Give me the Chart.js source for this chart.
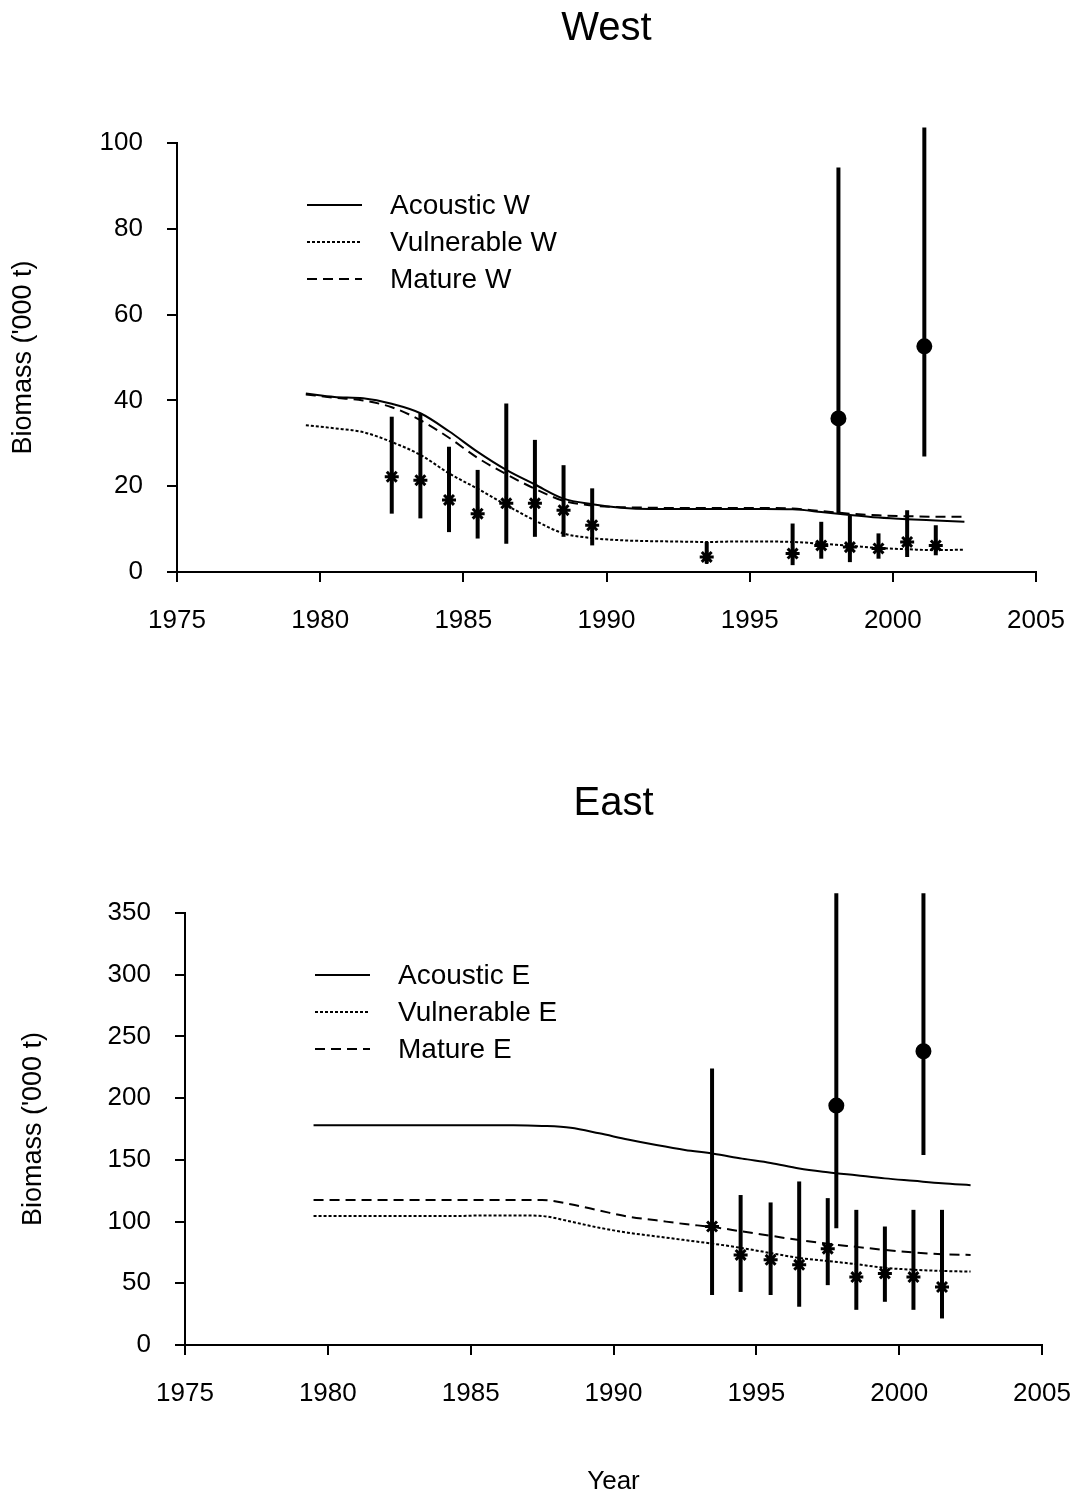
<!DOCTYPE html>
<html>
<head>
<meta charset="utf-8">
<script src="https://cdn.jsdelivr.net/npm/chart.js@4.4.0/dist/chart.umd.min.js"></script>
<style>
  body { margin: 0; background: #fff; }
  canvas { position: absolute; left: 0; }
  #west { top: 0; }
  #east { top: 740px; }
</style>
</head>
<body>
<canvas id="west" width="1076" height="720"></canvas>
<canvas id="east" width="1076" height="757"></canvas>
<script>
// model years (mid-year)
const years = [1979.5, 1980.5, 1981.5, 1982.5, 1983.5, 1984.5, 1985.5, 1986.5, 1987.5, 1988.5, 1989.5, 1990.5,
  1991.5, 1992.5, 1993.5, 1994.5, 1995.5, 1996.5, 1997.5, 1998.5, 1999.5, 2000.5, 2001.5, 2002.5]

// West
const acousticW = [41.6, 40.8, 40.5, 39.2, 37.0, 32.8, 28.0, 23.8, 20.4, 17.1, 15.8, 15.0,
  14.7, 14.7, 14.7, 14.7, 14.7, 14.6, 14.0, 13.3, 12.7, 12.3, 12.0, 11.7]
const vulnerableW = [34.2, 33.5, 32.6, 30.3, 27.3, 23.0, 19.4, 15.6, 12.0, 9.0, 7.9, 7.4,
  7.2, 7.1, 7.0, 7.1, 7.1, 7.0, 6.6, 6.1, 5.6, 5.3, 5.1, 5.2]
const matureW = [41.4, 40.6, 40.0, 38.4, 35.4, 31.3, 26.6, 22.8, 19.4, 16.6, 15.5, 15.1,
  15.0, 14.9, 14.9, 14.9, 14.9, 14.8, 14.2, 13.6, 13.2, 13.0, 12.9, 12.9]

const surveyYearsW = [1982.5, 1983.5, 1984.5, 1985.5, 1986.5, 1987.5, 1988.5, 1989.5, 1993.5, 1996.5, 1997.5, 1998.5, 1999.5, 2000.5, 2001.5]
const surveyW = [22.2, 21.4, 16.8, 13.6, 16.0, 16.0, 14.4, 10.9, 3.5, 4.3, 6.2, 5.8, 5.5, 7.0, 6.2]
const surveyLowW = [13.6, 12.5, 9.3, 7.8, 6.6, 8.2, 8.2, 6.2, 2.0, 1.6, 3.1, 2.3, 3.1, 3.5, 3.9]
const surveyHighW = [36.2, 37.0, 29.2, 23.8, 39.3, 30.8, 24.9, 19.5, 7.0, 11.3, 11.7, 13.2, 9.0, 14.4, 10.9]

const acYearsW = [1998.1, 2001.1]
const acW = [35.8, 52.6]
const acLowW = [13.6, 26.9]
const acHighW = [94.3, 103.6]

// East
const acousticE = [178, 178, 178, 178, 178, 178, 178, 178, 177.5, 176, 171.5, 166.5,
  162, 158, 155, 151, 147.5, 143, 140, 137.5, 135, 133, 131, 129.5]
const vulnerableE = [104.5, 104.5, 104.5, 104.5, 104.5, 104.5, 105, 105, 104.5, 100, 95, 91,
  88, 85, 82, 78.5, 74.5, 70.5, 68, 65.5, 62.5, 61, 60, 59.5]
const matureE = [117.5, 117.5, 117.5, 117.5, 117.5, 117.5, 117.5, 117.5, 117.5, 114, 109, 104,
  101, 98, 95.5, 92, 88.5, 85, 82, 79.5, 77, 75, 73.5, 73]

const surveyYearsE = [1993.45, 1994.45, 1995.5, 1996.5, 1997.5, 1998.5, 1999.5, 2000.5, 2001.5]
const surveyE = [96, 73, 69, 65, 78, 55, 58, 55, 47]
const surveyLowE = [40.5, 43, 40.5, 31, 48.5, 28.5, 35, 28.5, 21.5]
const surveyHighE = [224, 121.5, 115.5, 132.5, 119, 109.5, 96, 109.5, 109.5]

const acYearsE = [1997.8, 2000.85]
const acE = [194, 238]
const acLowE = [94.5, 154]
const acHighE = [366, 366]

const xTicks = [1975, 1980, 1985, 1990, 1995, 2000, 2005]

const FAMILY = '"Liberation Sans", Arial, Helvetica, sans-serif'
Chart.defaults.font.family = FAMILY
Chart.defaults.color = '#000'

const pts = (xs, ys) => xs.map((x, i) => ({ x: x, y: ys[i] }))

// title centred over the plot area
const plotTitle = {
  id: 'plotTitle',
  afterDraw(chart, args, opts) {
    const ctx = chart.ctx
    const a = chart.chartArea
    ctx.save()
    ctx.font = '40px ' + FAMILY
    ctx.fillStyle = '#000'
    ctx.textAlign = 'center'
    ctx.textBaseline = 'middle'
    ctx.fillText(opts.text, (a.left + a.right) / 2, opts.y)
    ctx.restore()
  }
}

// vertical error bars behind the markers
const errorBars = {
  id: 'errorBars',
  beforeDatasetsDraw(chart) {
    const ctx = chart.ctx
    const xs = chart.scales.x
    const ys = chart.scales.y
    chart.data.datasets.forEach(ds => {
      if (!ds.low) return
      ctx.save()
      ctx.strokeStyle = '#000'
      ctx.lineWidth = 4
      ds.data.forEach((p, i) => {
        const px = xs.getPixelForValue(p.x)
        ctx.beginPath()
        ctx.moveTo(px, ys.getPixelForValue(ds.low[i]))
        ctx.lineTo(px, ys.getPixelForValue(ds.high[i]))
        ctx.stroke()
      })
      ctx.restore()
    })
  }
}

// legend inside the plot, upper left
const insideLegend = {
  id: 'insideLegend',
  afterDraw(chart) {
    const ctx = chart.ctx
    const a = chart.chartArea
    ctx.save()
    ctx.font = '28px ' + FAMILY
    ctx.fillStyle = '#000'
    ctx.textBaseline = 'middle'
    let row = 0
    chart.data.datasets.forEach(ds => {
      if (!ds.inLegend) return
      const y = a.top + 62 + row * 37
      ctx.strokeStyle = '#000'
      ctx.lineWidth = ds.borderWidth
      ctx.setLineDash(ds.borderDash || [])
      ctx.beginPath()
      ctx.moveTo(a.left + 130, y)
      ctx.lineTo(a.left + 185, y)
      ctx.stroke()
      ctx.setLineDash([])
      ctx.fillText(ds.label, a.left + 213, y + 1)
      row++
    })
    ctx.restore()
  }
}

const lineSet = (label, xs, ys, dash) => ({
  type: 'line',
  label: label,
  data: pts(xs, ys),
  borderColor: '#000',
  borderWidth: 2,
  borderDash: dash,
  pointRadius: 0,
  fill: false,
  tension: 0.4,
  cubicInterpolationMode: 'monotone',
  inLegend: true
})

const markerSet = (label, xs, ys, lo, hi, style) => ({
  type: 'scatter',
  label: label,
  data: pts(xs, ys),
  low: lo,
  high: hi,
  pointStyle: style,
  pointRadius: style === 'star' ? 7 : 6.5,
  borderColor: '#000',
  backgroundColor: '#000',
  borderWidth: 3,
  clip: false
})

const makeOptions = (title, yMax, yStep, area, showYear) => ({
  responsive: false,
  animation: false,
  layout: { padding: { left: 0, right: 1076 - area.right, top: area.top, bottom: 0 } },
  plugins: {
    legend: { display: false },
    tooltip: { enabled: false },
    title: { display: false },
    plotTitle: { text: title, y: area.titleY }
  },
  scales: {
    x: {
      type: 'linear',
      min: 1975,
      max: 2005,
      afterBuildTicks: s => { s.ticks = xTicks.map(v => ({ value: v })) },
      ticks: { font: { size: 26 }, padding: 23, maxRotation: 0, callback: v => String(v) },
      grid: { drawOnChartArea: false, tickLength: 10, color: '#000', lineWidth: 2 },
      border: { color: '#000', width: 2 },
      title: { display: showYear, text: 'Year', font: { size: 26 }, padding: { top: 0, bottom: 0 } },
      afterFit: s => {
        s.height = area.height - area.bottom
        s.paddingLeft = 0
        s.paddingRight = 0
      }
    },
    y: {
      min: 0,
      max: yMax,
      ticks: { stepSize: yStep, font: { size: 26 }, padding: 24 },
      grid: { drawOnChartArea: false, tickLength: 10, color: '#000', lineWidth: 2 },
      border: { color: '#000', width: 2 },
      title: { display: true, text: "Biomass ('000 t)", font: { size: 27 }, padding: { top: area.yTitle, bottom: 0 } },
      afterFit: s => { s.width = area.left }
    }
  }
})

new Chart(document.getElementById('west'), {
  data: {
    datasets: [
      lineSet('Acoustic W', years, acousticW, []),
      lineSet('Vulnerable W', years, vulnerableW, [3, 2]),
      lineSet('Mature W', years, matureW, [10, 6]),
      markerSet('Survey W', surveyYearsW, surveyW, surveyLowW, surveyHighW, 'star'),
      markerSet('Acoustic survey W', acYearsW, acW, acLowW, acHighW, 'circle')
    ]
  },
  options: makeOptions('West', 100, 20, { left: 177, right: 1036, top: 143, bottom: 572, height: 720, titleY: 29, yTitle: 7 }, false),
  plugins: [plotTitle, errorBars, insideLegend]
})

new Chart(document.getElementById('east'), {
  data: {
    datasets: [
      lineSet('Acoustic E', years, acousticE, []),
      lineSet('Vulnerable E', years, vulnerableE, [3, 2]),
      lineSet('Mature E', years, matureE, [10, 6]),
      markerSet('Survey E', surveyYearsE, surveyE, surveyLowE, surveyHighE, 'star'),
      markerSet('Acoustic survey E', acYearsE, acE, acLowE, acHighE, 'circle')
    ]
  },
  options: makeOptions('East', 350, 50, { left: 185, right: 1042, top: 173, bottom: 605, height: 757, titleY: 64, yTitle: 17 }, true),
  plugins: [plotTitle, errorBars, insideLegend]
})
</script>
</body>
</html>
